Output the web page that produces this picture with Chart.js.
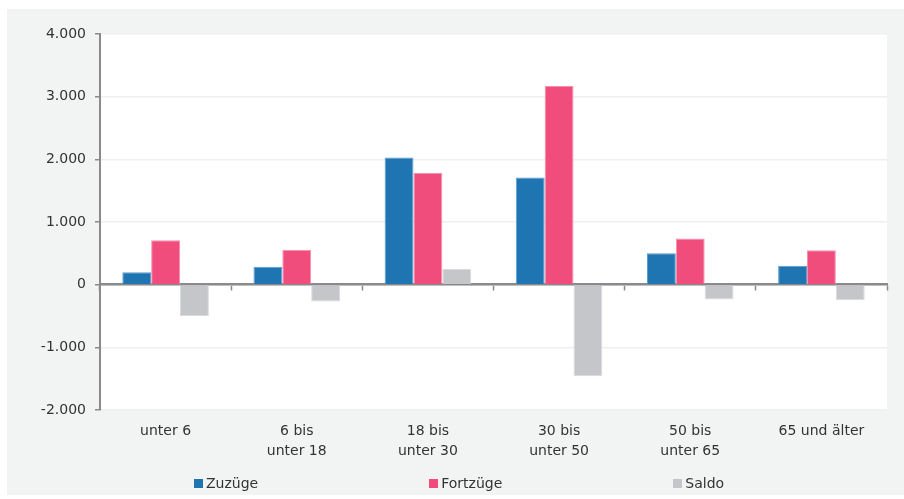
<!DOCTYPE html>
<html lang="de">
<head>
<meta charset="utf-8">
<title>Zuzüge und Fortzüge nach Altersgruppen</title>
<script src="https://cdn.jsdelivr.net/npm/chart.js@4/dist/chart.umd.min.js"></script>
<style>
  html, body { margin: 0; padding: 0; background: #ffffff; }
  #wrap { position: relative; width: 904px; height: 499px; }
  #chart { position: absolute; left: 0; top: 0; }
  #legend {
    position: absolute; left: 194px; top: 475px;
    display: flex; gap: 171px;
    font-family: "DejaVu Sans", sans-serif; font-size: 14px; color: #333;
  }
  #legend .item { display: flex; align-items: center; white-space: nowrap; }
  #legend .box { width: 9px; height: 9px; margin-right: 3px; }
</style>
</head>
<body>
<div id="wrap">
  <canvas id="chart" width="904" height="499"></canvas>
  <div id="legend"></div>
</div>
<script>
// Altersgruppen
const categories = [
  'unter 6',
  ['6 bis', 'unter 18'],
  ['18 bis', 'unter 30'],
  ['30 bis', 'unter 50'],
  ['50 bis', 'unter 65'],
  '65 und älter'
];

// Personen je Altersgruppe
const zuzuege  = [200, 285, 2030, 1710, 500, 300];
const fortzuege = [710, 555, 1780, 3170, 735, 550];
const saldo    = [-500, -270, 250, -1460, -235, -250];

const seriesNames = ['Zuzüge', 'Fortzüge', 'Saldo'];
const seriesColors = ['#1f75b1', '#f04c7c', '#c5c6ca'];
const seriesEdges = ['#5a9ccd', '#f78fae', '#d9dadd'];

const yTicks = [-2000, -1000, 0, 1000, 2000, 3000, 4000];

const fontFamily = '"DejaVu Sans", sans-serif';
const textColor = '#333333';
const axisColor = '#8a8a8c';

function fmt(v) {
  const s = Math.abs(v).toString().replace(/\B(?=(\d{3})+(?!\d))/g, '.');
  return (v < 0 ? '-' : '') + s;
}

// Panel and plot backgrounds
const backgroundPlugin = {
  id: 'panelBackground',
  beforeDraw(chart) {
    const { ctx, chartArea: a } = chart;
    ctx.save();
    ctx.fillStyle = '#ffffff';
    ctx.fillRect(0, 0, chart.width, chart.height);
    ctx.fillStyle = '#f2f3f3';
    ctx.fillRect(7, 9, chart.width - 7, chart.height - 13);
    ctx.fillStyle = '#ffffff';
    ctx.fillRect(a.left, a.top, a.right - a.left, a.bottom - a.top);
    ctx.restore();
  }
};

const datasets = [zuzuege, fortzuege, saldo].map((values, i) => ({
  label: seriesNames[i],
  data: values,
  backgroundColor: seriesColors[i],
  borderColor: seriesEdges[i],
  borderWidth: 1,
  categoryPercentage: 0.66,
  barPercentage: 1.0,
  xAxisID: 'x'
}));

new Chart(document.getElementById('chart'), {
  type: 'bar',
  data: { labels: categories, datasets },
  plugins: [backgroundPlugin],
  options: {
    responsive: false,
    animation: false,
    layout: { padding: { left: 0, top: 34, right: 17, bottom: 0 } },
    plugins: {
      legend: { display: false },
      tooltip: { enabled: false }
    },
    scales: {
      x: {
        type: 'category',
        position: 'bottom',
        offset: true,
        grid: { display: false, drawTicks: false },
        border: { display: false },
        ticks: {
          color: textColor,
          font: { family: fontFamily, size: 14, lineHeight: 1.4 },
          padding: 12,
          maxRotation: 0,
          autoSkip: false
        },
        afterFit(scale) { scale.height = 89; }
      },
      xZero: {
        type: 'category',
        position: { y: 0 },
        offset: true,
        grid: {
          offset: true,
          drawOnChartArea: false,
          drawTicks: true,
          tickLength: 5,
          tickColor: axisColor,
          tickWidth: 1.5
        },
        border: { display: true, color: axisColor, width: 2.5 },
        ticks: { display: false }
      },
      y: {
        min: -2000,
        max: 4000,
        afterBuildTicks(scale) { scale.ticks = yTicks.map(v => ({ value: v })); },
        grid: {
          color: '#eef0f0',
          lineWidth: 1.5,
          drawTicks: true,
          tickLength: 5,
          tickColor: axisColor,
          tickWidth: 1.5
        },
        border: { display: true, color: axisColor, width: 2 },
        ticks: {
          color: textColor,
          font: { family: fontFamily, size: 14 },
          padding: 9,
          callback: v => fmt(v)
        },
        afterFit(scale) { scale.width = 100; }
      }
    }
  }
});

// Legend
const legend = document.getElementById('legend');
seriesNames.forEach((name, i) => {
  const item = document.createElement('div');
  item.className = 'item';
  const box = document.createElement('span');
  box.className = 'box';
  box.style.background = seriesColors[i];
  const txt = document.createElement('span');
  txt.textContent = name;
  item.appendChild(box);
  item.appendChild(txt);
  legend.appendChild(item);
});
</script>
</body>
</html>
